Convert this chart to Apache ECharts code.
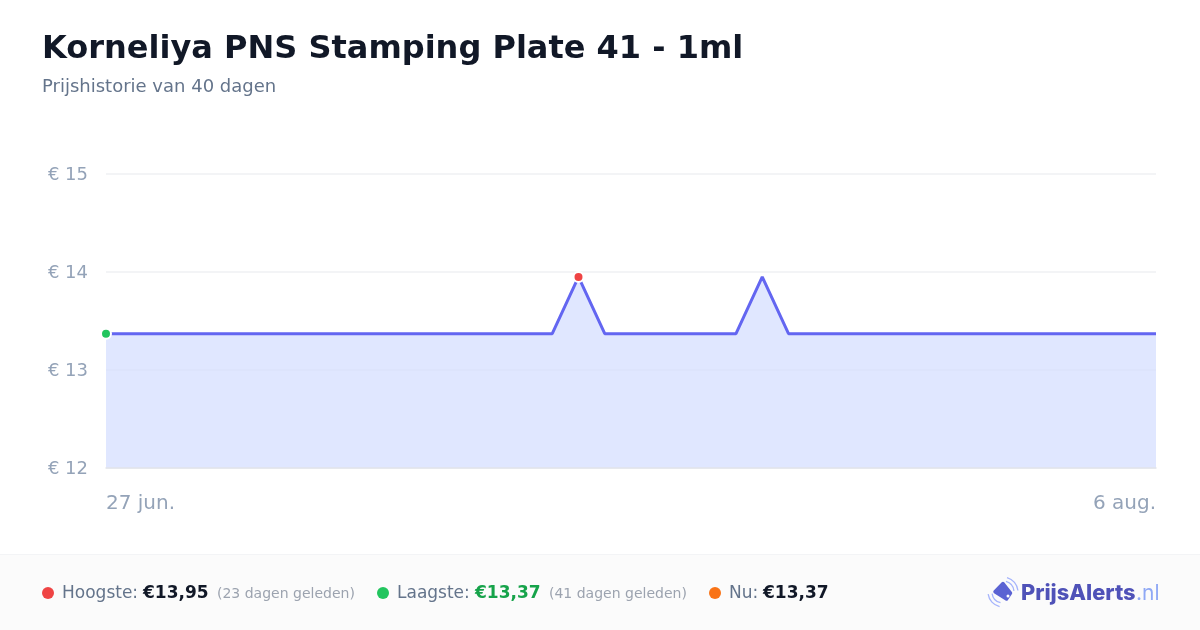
<!DOCTYPE html>
<html><head><meta charset="utf-8">
<style>html,body{margin:0;padding:0;background:#fff}#c{width:1200px;height:630px}</style>
<script src="https://cdn.jsdelivr.net/npm/echarts@6/dist/echarts.min.js"></script>
</head><body><div id="c"></div>
<script>
const startMonthDay = [
 '27 jun.','28 jun.','29 jun.','30 jun.','1 jul.','2 jul.','3 jul.','4 jul.','5 jul.','6 jul.','7 jul.','8 jul.','9 jul.','10 jul.','11 jul.','12 jul.','13 jul.','14 jul.','15 jul.','16 jul.','17 jul.','18 jul.','19 jul.','20 jul.','21 jul.','22 jul.','23 jul.','24 jul.','25 jul.','26 jul.','27 jul.','28 jul.','29 jul.','30 jul.','31 jul.','1 aug.','2 aug.','3 aug.','4 aug.','5 aug.','6 aug.'];
const prices = [
 13.37,13.37,13.37,13.37,13.37,13.37,13.37,13.37,13.37,13.37,13.37,13.37,13.37,13.37,13.37,13.37,13.37,13.37,
 13.95,13.37,13.37,13.37,13.37,13.37,13.37,13.95,13.37,13.37,13.37,13.37,13.37,13.37,13.37,13.37,13.37,13.37,13.37,13.37,13.37,13.37,13.37];
const yTicks = {min:12,max:15,interval:1};
const highIndex = 18, lowIndex = 0;
const F = '"DejaVu Sans", sans-serif';
const t = (x,y,text,size,fill,weight,font)=>({type:'text',x,y,style:{text,fontSize:size,fill,fontWeight:weight||'normal',fontFamily:font||F,textVerticalAlign:'middle'},z:20});
const arc = (r,a,b)=>({type:'arc',shape:{cx:1003,cy:592,r,startAngle:a,endAngle:b},style:{stroke:'#a5b4fc',lineWidth:1.3,fill:null},z:20});
const chart = echarts.init(document.getElementById('c'),null,{renderer:'canvas'});
chart.setOption({
 animation:false,
 backgroundColor:'#ffffff',
 grid:{left:106,right:44,top:174,bottom:162},
 xAxis:{type:'category',boundaryGap:false,data:startMonthDay,z:4,
  axisLine:{show:true,lineStyle:{color:'#e2e4ea',width:1.5}},axisTick:{show:false},splitLine:{show:false},
  axisLabel:{interval:(i)=>i===0||i===startMonthDay.length-1,showMinLabel:true,showMaxLabel:true,alignMinLabel:'left',alignMaxLabel:'right',
   color:'#94a3b8',fontSize:20,fontFamily:F,margin:26}},
 yAxis:{type:'value',min:yTicks.min,max:yTicks.max,interval:yTicks.interval,
  axisLine:{show:false},axisTick:{show:false},
  splitLine:{lineStyle:{color:'#f3f4f6',width:2}},
  axisLabel:{formatter:v=>'€ '+v,color:'#94a3b8',fontSize:18,fontFamily:F,margin:18,verticalAlign:'top',lineHeight:2}},
 series:[
  {type:'line',data:prices,showSymbol:false,symbol:'none',smooth:false,z:3,
   lineStyle:{color:'#6366f1',width:3},areaStyle:{color:'rgb(211,221,255)',opacity:0.7,origin:'start'}},
  {type:'scatter',z:5,symbolSize:10,silent:true,
   data:[{value:[highIndex,prices[highIndex]],itemStyle:{color:'#ef4444',borderColor:'#fff',borderWidth:2,opacity:1}},
         {value:[lowIndex,prices[lowIndex]],itemStyle:{color:'#22c55e',borderColor:'#fff',borderWidth:2,opacity:1}}]}
 ],
 graphic:[
  {type:'rect',shape:{x:0,y:555,width:1200,height:75},style:{fill:'#fbfbfb'},z:10},
  {type:'rect',shape:{x:0,y:554,width:1200,height:1},style:{fill:'#f3f4f6'},z:10},
  t(42,50,'Korneliya PNS Stamping Plate 41 - 1ml',32,'#111827','bold'),
  t(42,87.5,'Prijshistorie van 40 dagen',18,'#64748b'),
  {type:'circle',shape:{cx:48,cy:593,r:6},style:{fill:'#ef4444'},z:20},
  t(62,594,'Hoogste:',17,'#64748b'),
  t(143,594,'€13,95',17,'#111827','bold'),
  t(217,594,'(23 dagen geleden)',14,'#9ca3af'),
  {type:'circle',shape:{cx:383,cy:593,r:6},style:{fill:'#22c55e'},z:20},
  t(397,594,'Laagste:',17,'#64748b'),
  t(475,594,'€13,37',17,'#16a34a','bold'),
  t(549,594,'(41 dagen geleden)',14,'#9ca3af'),
  {type:'circle',shape:{cx:715,cy:593,r:6},style:{fill:'#f97316'},z:20},
  t(729,594,'Nu:',17,'#64748b'),
  t(763,594,'€13,37',17,'#111827','bold'),
  {type:'polygon',shape:{points:[[1003,583.5],[1010.5,593],[1006.5,599],[995,591.7]]},style:{fill:'#5b63d3',stroke:'#5b63d3',lineWidth:3.5,lineJoin:'round'},z:20},
  {type:'circle',shape:{cx:1008,cy:596,r:1.5},style:{fill:'#fff'},z:21},
  arc(11,-1.3,-0.1),arc(15,-1.3,-0.1),arc(11,1.8,3.0),arc(15,1.8,3.0),
  t(1021,593.5,'PrijsAlerts',21.8,'#4f52b8','800','Inter'),
  t(1136,593.5,'.nl',21,'#8fa8f5','normal','Inter')
 ]
});
</script></body></html>
